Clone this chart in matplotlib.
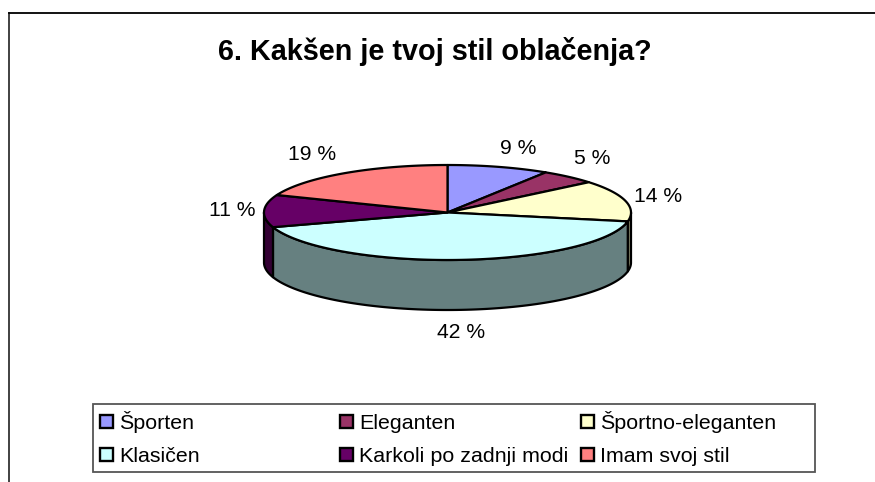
import matplotlib
matplotlib.use('Agg')
import matplotlib.pyplot as plt
from matplotlib.patches import Rectangle
import numpy as np

plt.rcParams['font.family'] = ['Liberation Sans', 'DejaVu Sans']

title = '6. Kakšen je tvoj stil oblačenja?'
categories = ['Športen', 'Eleganten', 'Športno-eleganten', 'Klasičen', 'Karkoli po zadnji modi', 'Imam svoj stil']
values = [9, 5, 14, 42, 11, 19]
colors = ['#9999FF', '#993366', '#FFFFCC', '#CCFFFF', '#660066', '#FF8080']
side_colors = ['#4C4C80', '#4C1A33', '#808066', '#668080', '#330033', '#804040']
label_pos = [(518, 149), (592, 159), (658, 197), (461, 332), (232, 211), (312, 155)]

CX, CY, RX, RY, DEPTH = 447.5, 212.5, 183.5, 47.5, 50


def rim(a, b, dy=0):
    # a, b in degrees clockwise from the top of the pie
    t = np.radians(np.linspace(a, b, 100))
    return CX + RX * np.sin(t), CY - RY * np.cos(t) + dy


fig = plt.figure(figsize=(8.75, 4.82), dpi=100)
ax = fig.add_axes([0, 0, 1, 1])
ax.set_xlim(0, 875)
ax.set_ylim(482, 0)
ax.axis('off')

# chart frame, runs off the image on the right and at the bottom
ax.plot([8.5, 8.5], [482, 12.5], color='#333333', lw=1.3)
ax.plot([8.5, 875], [12.5, 12.5], color='black', lw=1.3)

ax.text(434.5, 51, title, fontsize=20.7, fontweight='bold', ha='center', va='center')

edges = np.cumsum([0] + values) * 3.6

# side wall, only the front half of the rim shows
for i in range(len(values)):
    a = max(edges[i], 90)
    b = min(edges[i + 1], 270)
    if a >= b:
        continue
    x, y = rim(a, b)
    x2, y2 = rim(a, b, DEPTH)
    ax.fill(np.r_[x, x2[::-1]], np.r_[y, y2[::-1]], facecolor=side_colors[i],
            edgecolor='black', lw=1.6, joinstyle='round', zorder=2)

# top face
for i in range(len(values)):
    x, y = rim(edges[i], edges[i + 1])
    ax.fill(np.r_[CX, x], np.r_[CY, y], facecolor=colors[i],
            edgecolor='black', lw=1.6, joinstyle='round', zorder=3)

for v, pos in zip(values, label_pos):
    ax.text(pos[0], pos[1], f'{v} %', fontsize=15.2, ha='center', va='center')

# legend box
ax.add_patch(Rectangle((92.7, 403.7), 722, 68, facecolor='white', edgecolor='#555555', lw=1.3))
col_x = [100, 339.5, 580.5]
row_y = [421, 454.5]
base_y = [429, 462.3]
for i, name in enumerate(categories):
    x = col_x[i % 3]
    ax.add_patch(Rectangle((x, row_y[i // 3] - 6.5), 13, 13, facecolor=colors[i], edgecolor='black', lw=1.7))
    ax.text(x + 19.3, base_y[i // 3], name, fontsize=15.4, ha='left', va='baseline')

fig.savefig('out.png', dpi=100)
